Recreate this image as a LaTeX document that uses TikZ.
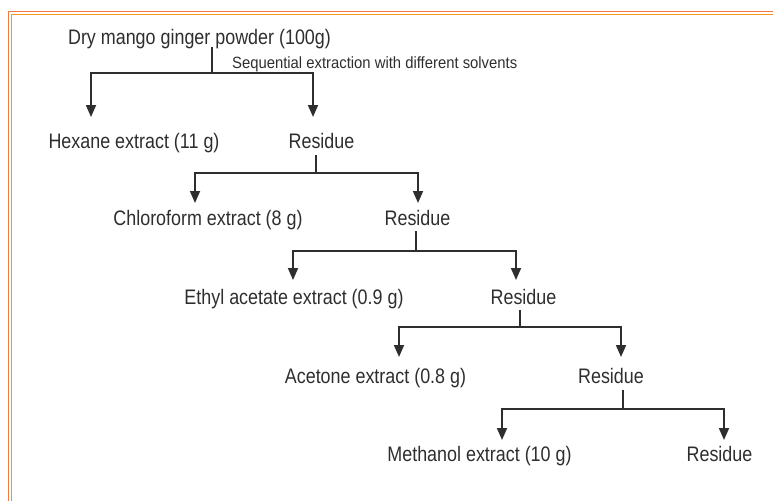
\documentclass[tikz,border=0pt]{standalone}
\usepackage{fontspec}
\setmainfont{Liberation Sans}
\newfontfamily\bigfam[FakeStretch=0.853]{Liberation Sans}
\newfontfamily\smallfam[FakeStretch=0.91]{Liberation Sans}
\usetikzlibrary{arrows.meta}
\definecolor{txt}{HTML}{2E2E2E}
\definecolor{ln}{HTML}{2E2E2E}
\definecolor{bordouter}{HTML}{F2783C}
\definecolor{bordinner}{HTML}{F8961E}
\begin{document}
\begin{tikzpicture}[x=1pt,y=-1pt,
  lbl/.style={anchor=base,inner sep=0pt,text=txt,font=\bigfam\fontsize{21}{25}\selectfont},
  sml/.style={anchor=base west,inner sep=0pt,text=txt,font=\smallfam\fontsize{16.3}{19}\selectfont},
  conn/.style={draw=ln,line width=1.8pt},
  arr/.style={conn,-{Triangle[length=12pt,width=10pt]}}]
\useasboundingbox (0,0) rectangle (773,501);
% border
\draw[bordouter,line width=1.6pt] (8.5,501) -- (8.5,11.5) -- (773,11.5);
\draw[bordinner,line width=1.6pt] (11.5,501) -- (11.5,14.5) -- (773,14.5);
% texts
\node[lbl] (top) at (199.5,44) {Dry mango ginger powder (100g)};
\node[sml] (seq) at (232,68.3) {Sequential extraction with different solvents};
\node[lbl] (hex) at (134,148) {Hexane extract (11 g)};
\node[lbl] (r1) at (321.5,148) {Residue};
\node[lbl] (chl) at (208,225) {Chloroform extract (8 g)};
\node[lbl] (r2) at (417.5,225) {Residue};
\node[lbl] (eth) at (294,304.5) {Ethyl acetate extract (0.9 g)};
\node[lbl] (r3) at (523.5,304.5) {Residue};
\node[lbl] (ace) at (375.5,383.5) {Acetone extract (0.8 g)};
\node[lbl] (r4) at (611,383.5) {Residue};
\node[lbl] (met) at (479.5,461) {Methanol extract (10 g)};
\node[lbl] (r5) at (719.5,461) {Residue};
% junctions and tips
\coordinate (s0) at (212,47);   \coordinate (j0) at (212,73);
\coordinate (t0l) at (91,117);  \coordinate (t0r) at (313,117);
\coordinate (s1) at (316,155);  \coordinate (j1) at (316,173);
\coordinate (t1l) at (195,203); \coordinate (t1r) at (418,203);
\coordinate (s2) at (416,231);  \coordinate (j2) at (416,251);
\coordinate (t2l) at (293,280); \coordinate (t2r) at (516,280);
\coordinate (s3) at (520,310);  \coordinate (j3) at (520,327);
\coordinate (t3l) at (399,357); \coordinate (t3r) at (621,357);
\coordinate (s4) at (623,390);  \coordinate (j4) at (623,409);
\coordinate (t4l) at (502,440); \coordinate (t4r) at (724,440);
% connectors
\foreach \i in {0,1,2,3,4}{
  \draw[conn] (s\i) -- (j\i);
  \draw[arr] (j\i) -| (t\i l);
  \draw[arr] (j\i) -| (t\i r);
}
\end{tikzpicture}
\end{document}
